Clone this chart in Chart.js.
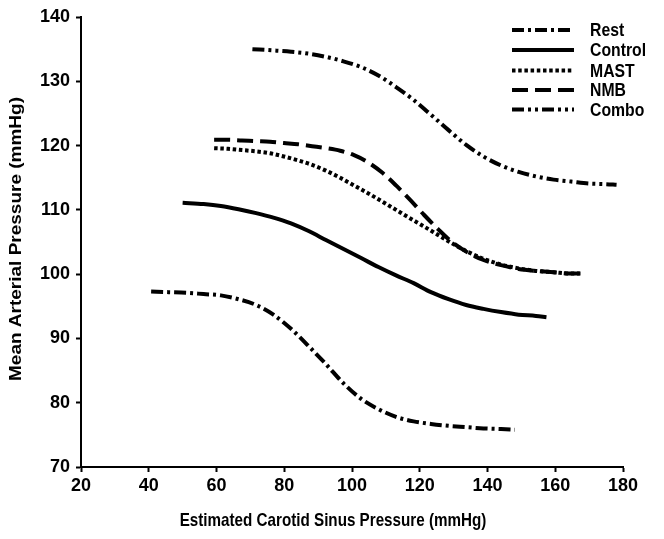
<!DOCTYPE html>
<html><head><meta charset="utf-8">
<script src="https://cdn.jsdelivr.net/npm/chart.js@4.4.0/dist/chart.umd.min.js"></script>
<style>html,body{margin:0;padding:0;background:#fff;}canvas{display:block}</style>
</head><body>
<canvas id="c" width="664" height="539"></canvas>
<script>
// ---- data ----
const seriesNames = ['Rest', 'Control', 'MAST', 'NMB', 'Combo'];
const xTickValues = [20, 40, 60, 80, 100, 120, 140, 160, 180];
const yTickValues = [70, 80, 90, 100, 110, 120, 130, 140];
const xTitle = 'Estimated Carotid Sinus Pressure (mmHg)';
const yTitle = 'Mean Arterial Pressure (mmHg)';

const restX = [40.7, 45.8, 51.0, 56.2, 61.3, 66.5, 71.7, 76.8, 82.0, 87.2, 92.3, 97.5, 102.7, 107.8, 113.0, 118.2, 123.3, 128.5, 133.7, 138.8, 144.0, 148.1];
const restY = [97.3, 97.2, 97.1, 96.9, 96.7, 96.1, 95.2, 93.7, 91.5, 88.8, 86.0, 83.0, 80.6, 79.0, 77.8, 77.1, 76.7, 76.4, 76.2, 76.0, 75.9, 75.8];

const controlX = [50.0, 56.2, 61.3, 66.5, 71.7, 76.8, 82.0, 87.2, 92.3, 97.5, 102.7, 107.8, 113.0, 118.2, 123.3, 128.5, 133.7, 138.8, 144.0, 149.2, 154.3, 157.4];
const controlY = [111.1, 110.9, 110.6, 110.1, 109.5, 108.8, 107.9, 106.7, 105.3, 103.9, 102.5, 101.1, 99.8, 98.6, 97.2, 96.1, 95.2, 94.6, 94.1, 93.7, 93.5, 93.3];

const mastX = [59.3, 63.4, 67.5, 71.7, 75.8, 79.9, 84.1, 88.2, 92.3, 96.5, 100.6, 104.7, 108.9, 113.0, 117.1, 121.3, 125.4, 129.5, 133.7, 138.8, 144.0, 149.2, 154.3, 159.5, 164.7, 167.8];
const mastY = [119.6, 119.5, 119.3, 119.1, 118.8, 118.3, 117.7, 117.0, 116.1, 115.0, 113.8, 112.6, 111.3, 110.0, 108.7, 107.4, 106.1, 104.8, 103.6, 102.4, 101.5, 100.9, 100.5, 100.3, 100.1, 100.1];

const nmbX = [59.3, 63.4, 67.5, 71.7, 75.8, 79.9, 84.1, 88.2, 92.3, 96.5, 100.6, 104.7, 108.9, 113.0, 117.1, 121.3, 125.4, 129.5, 133.7, 138.8, 144.0, 149.2, 154.3, 159.5, 164.7, 167.8];
const nmbY = [120.9, 120.9, 120.8, 120.7, 120.6, 120.4, 120.2, 119.9, 119.6, 119.2, 118.5, 117.4, 115.8, 113.8, 111.6, 109.2, 107.0, 105.0, 103.5, 102.2, 101.4, 100.8, 100.5, 100.3, 100.1, 100.1];

const comboX = [70.6, 76.8, 82.0, 87.2, 92.3, 97.5, 102.7, 107.8, 113.0, 118.2, 123.3, 128.5, 133.7, 138.8, 144.0, 149.2, 154.3, 159.5, 164.7, 169.8, 175.0, 178.1];
const comboY = [135.0, 134.8, 134.6, 134.3, 133.8, 133.1, 132.2, 130.9, 129.1, 127.1, 124.8, 122.4, 120.1, 118.3, 116.9, 115.9, 115.2, 114.7, 114.4, 114.1, 114.0, 113.9];

// ---- styles ----
const FONT = '"Liberation Sans", Arial, Helvetica, sans-serif';
const dashes = {
  Rest: [12, 4, 3, 4],
  Control: [],
  MAST: [3.5, 2.7],
  NMB: [16, 7],
  Combo: [12, 4, 3, 4, 3, 4]
};
const xs = [restX, controlX, mastX, nmbX, comboX];
const ys = [restY, controlY, mastY, nmbY, comboY];

const datasets = seriesNames.map((name, i) => ({
  label: name,
  data: xs[i].map((x, j) => ({x: x, y: ys[i][j]})),
  borderColor: '#000',
  backgroundColor: '#000',
  borderWidth: 4,
  borderDash: dashes[name],
  borderCapStyle: 'butt',
  pointRadius: 0,
  showLine: true,
  fill: false,
  tension: 0.4,
  cubicInterpolationMode: 'monotone'
}));

function squishedText(ctx, text, x, y, size, squish, rotate, align) {
  ctx.save();
  ctx.translate(x, y);
  if (rotate) { ctx.rotate(-Math.PI / 2); ctx.scale(1, squish); }
  else { ctx.scale(squish, 1); }
  ctx.font = 'bold ' + size + 'px ' + FONT;
  ctx.fillStyle = '#000';
  ctx.textBaseline = 'middle';
  ctx.textAlign = align;
  ctx.fillText(text, 0, 0);
  ctx.restore();
}

const textPlugin = {
  id: 'dashLegendAndTitles',
  afterDraw(chart) {
    const ctx = chart.ctx;
    const rows = [30, 50, 70.5, 90, 109.5];
    seriesNames.forEach((name, i) => {
      const y = rows[i];
      ctx.save();
      ctx.beginPath();
      ctx.setLineDash(dashes[name]);
      ctx.lineWidth = 4;
      ctx.strokeStyle = '#000';
      ctx.lineCap = 'butt';
      ctx.moveTo(512, y);
      ctx.lineTo(574, y);
      ctx.stroke();
      ctx.restore();
      squishedText(ctx, name, 590, y + 1, 19, 0.83, false, 'left');
    });
    // axis titles
    squishedText(ctx, xTitle, 333, 521, 19, 0.80, false, 'center');
    squishedText(ctx, yTitle, 16.5, 239, 19, 0.83, true, 'center');
  }
};

new Chart(document.getElementById('c'), {
  type: 'scatter',
  data: {datasets: datasets},
  plugins: [textPlugin],
  options: {
    responsive: false,
    animation: false,
    devicePixelRatio: 1,
    layout: {padding: {top: 17, right: 41, bottom: 0, left: 0}},
    plugins: {legend: {display: false}, tooltip: {enabled: false}},
    scales: {
      x: {
        type: 'linear',
        min: 20, max: 180,
        afterBuildTicks(scale) { scale.ticks = xTickValues.map(v => ({value: v})); },
        afterFit(scale) { scale.height = 72; },
        ticks: {color: '#000', font: {family: FONT, size: 18, weight: 'bold'}, padding: 3, maxRotation: 0},
        grid: {display: true, drawOnChartArea: false, drawTicks: true, tickLength: 5, tickColor: '#000', tickWidth: 2},
        border: {display: true, color: '#000', width: 2},
        title: {display: false}
      },
      y: {
        type: 'linear',
        min: 70, max: 140,
        afterBuildTicks(scale) { scale.ticks = yTickValues.map(v => ({value: v})); },
        afterFit(scale) { scale.width = 81; },
        ticks: {color: '#000', font: {family: FONT, size: 18, weight: 'bold'}, padding: 6},
        grid: {display: true, drawOnChartArea: false, drawTicks: true, tickLength: 5, tickColor: '#000', tickWidth: 2},
        border: {display: true, color: '#000', width: 2},
        title: {display: false}
      }
    }
  }
});
</script>
</body></html>
